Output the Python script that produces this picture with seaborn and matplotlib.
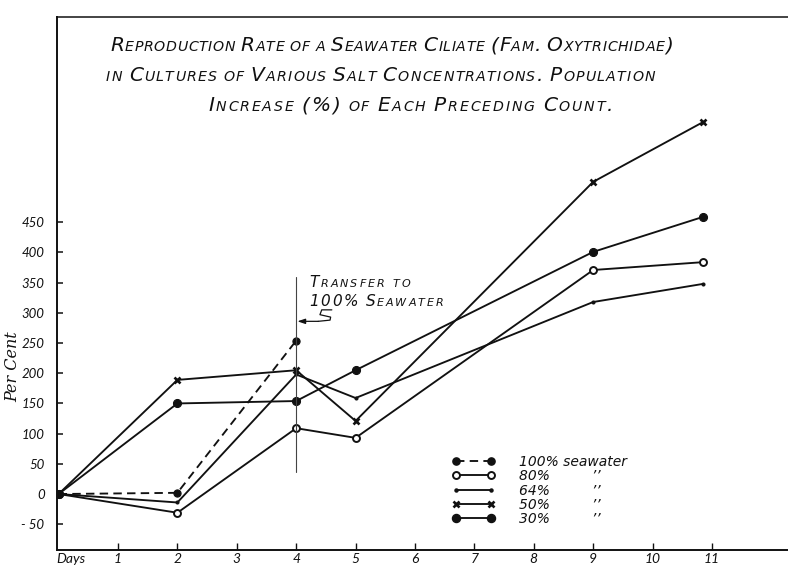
import matplotlib
matplotlib.use("Agg")
import matplotlib.pyplot as plt
import seaborn as sns
import pandas as pd
from matplotlib.lines import Line2D
from matplotlib.offsetbox import TextArea, HPacker, AnnotationBbox

# ---- data -------------------------------------------------------------
days_100 = [0, 2, 4]
pct_100 = [0, 2, 254]

days = [0, 2, 4, 5, 9, 10.85]
pct_80 = [0, -31, 109, 93, 371, 384]
pct_64 = [0, -14, 198, 159, 318, 348]
pct_50 = [0, 189, 205, 121, 517, 616]
pct_30 = [0, 150, 154, 205, 401, 459]

x_ticks = list(range(1, 12))
y_ticks = list(range(-50, 451, 50))
legend_labels = ["100% seawater", "80%", "64%", "50%", "30%"]
ditto = "\u2019\u2019"

transfer_day = 4
transfer_span = (36, 359)
arrow_level = 286

title_lines = [
    "Reproduction Rate of a Seawater Ciliate (Fam. Oxytrichidae)",
    "in Cultures of Various Salt Concentrations. Population",
    "Increase (%) of Each Preceding Count.",
]
transfer_lines = ["Transfer to", "100% Seawater"]

# ---- figure -------------------------------------------------------------
sns.set_style("white")
plt.rcParams["font.family"] = ["Lato", "DejaVu Sans"]

W, H = 788, 566
fig = plt.figure(figsize=(W / 100, H / 100), dpi=100)
fig.patch.set_facecolor("white")
ax = fig.add_axes([57 / W, 16 / H, 731 / W, 533 / H])
ax.set_facecolor("white")

INK = "#111111"
LW = 1.35
LETTER = ["DejaVu Sans"]

series = [
    (days_100, pct_100, dict(marker="o", markersize=5.2, markerfacecolor=INK,
                             markeredgecolor=INK, linestyle=(0, (4.5, 2.8)))),
    (days, pct_80, dict(marker="o", markersize=5.0, markerfacecolor="white",
                        markeredgecolor=INK, markeredgewidth=1.4, linestyle="-")),
    (days, pct_64, dict(marker="o", markersize=2.2, markerfacecolor=INK,
                        markeredgecolor=INK, linestyle="-")),
    (days, pct_50, dict(marker="x", markersize=5.0, markeredgecolor=INK,
                        markeredgewidth=1.9, linestyle="-")),
    (days, pct_30, dict(marker="o", markersize=5.8, markerfacecolor=INK,
                        markeredgecolor=INK, linestyle="-")),
]

for (xs, ys, style) in series:
    df = pd.DataFrame({"day": xs, "pct": ys})
    sns.lineplot(data=df, x="day", y="pct", ax=ax, color=INK, linewidth=LW,
                 errorbar=None, legend=False, **style)

# transfer marker
ax.plot([transfer_day, transfer_day], transfer_span, color="#444444", lw=0.8)
ax.annotate("", xy=(transfer_day + 0.02, arrow_level),
            xytext=(transfer_day + 0.37, arrow_level),
            arrowprops=dict(arrowstyle="-|>,head_length=0.45,head_width=0.15",
                            color=INK, lw=0.9, shrinkA=0, shrinkB=0))
sq_dx = [0.37, 0.57, 0.58, 0.40, 0.43, 0.60]
sq_dy = [0, 2, 7, 11, 19, 19]
ax.plot([transfer_day + d for d in sq_dx], [arrow_level + d for d in sq_dy],
        color=INK, lw=0.9)

# ---- axes -------------------------------------------------------------
ax.set_xlim(-0.027, 12.28)
ax.set_ylim(-92.7, 790)
ax.set_xticks(x_ticks)
ax.set_xticklabels([str(t) for t in x_ticks])
ax.set_yticks(y_ticks)
ax.set_yticklabels(["- 50" if t < 0 else str(t) for t in y_ticks])
ax.set_xlabel("")
ax.set_ylabel("")

for s in ["left", "bottom", "top"]:
    ax.spines[s].set_visible(True)
    ax.spines[s].set_color(INK)
ax.spines["left"].set_linewidth(1.4)
ax.spines["bottom"].set_linewidth(1.4)
ax.spines["top"].set_linewidth(1.1)
ax.spines["right"].set_visible(False)

ax.tick_params(axis="y", direction="in", length=4.5, width=1.1, pad=9,
               labelsize=9.5, colors=INK, left=True)
ax.tick_params(axis="x", direction="in", length=5, width=1.0, pad=2,
               labelsize=10, colors=INK, bottom=True)
for lab in ax.get_xticklabels() + ax.get_yticklabels():
    lab.set_fontstyle("italic")

ax.annotate("Days", xy=(0, 0), xycoords=("data", "axes fraction"),
            xytext=(-2, -2.5), textcoords="offset points", ha="left", va="top",
            fontsize=10, fontstyle="italic", color=INK)

fig.text(13 / W, 1 - 367 / H, "Per Cent", rotation=90, ha="center", va="center",
         fontsize=11.5, fontstyle="italic", family=["DejaVu Serif"], color=INK)

# ---- legend -------------------------------------------------------------
handles = [Line2D([], [], color=INK, lw=LW, **style) for (_, _, style) in series]
labels = [legend_labels[0]] + [f"{lab}" + "\u2002" * 6 + ditto for lab in legend_labels[1:]]
leg = ax.legend(handles, labels, loc="upper left",
                bbox_to_anchor=(452 / W, 1 - 455 / H), bbox_transform=fig.transFigure,
                frameon=False, numpoints=2, handlelength=3.1, handletextpad=1.7,
                labelspacing=0.02, borderpad=0, borderaxespad=0,
                prop=dict(size=10, style="italic", family=LETTER))
for t in leg.get_texts():
    t.set_color(INK)


# ---- small-caps hand lettering, stretched to a given width -----------------
def letter_boxes(text, big, small):
    boxes = []
    for ch in text:
        size = small if (ch.islower() or ch == " ") else big
        boxes.append(TextArea(ch.upper(), textprops=dict(
            fontsize=size, fontstyle="italic", color=INK, family=LETTER)))
    return boxes


renderer = fig.canvas.get_renderer()


def place_lettering(text, big, small, x0_px, x1_px, y_px):
    boxes = letter_boxes(text, big, small)
    probe = HPacker(children=boxes, align="baseline", pad=0, sep=0)
    probe.set_figure(fig)
    natural = probe.get_bbox(renderer).width  # pixels
    gap_px = max(0.0, (x1_px - x0_px - natural) / (len(boxes) - 1))
    box = HPacker(children=letter_boxes(text, big, small), align="baseline",
                  pad=0, sep=gap_px * 72 / fig.dpi)
    ab = AnnotationBbox(box, (x0_px / W, 1 - y_px / H), xycoords="figure fraction",
                        box_alignment=(0, 0), frameon=False, pad=0)
    fig.add_artist(ab)


for line, (x0, x1, yp) in zip(title_lines, [(110, 673, 55), (106, 655, 85), (208, 613, 115)]):
    place_lettering(line, 14.5, 10.2, x0, x1, yp)

for line, (x0, x1, yp) in zip(transfer_lines, [(309, 410, 290), (309, 443, 309)]):
    place_lettering(line, 11, 8, x0, x1, yp)

fig.savefig("out.png", dpi=100, facecolor="white")
